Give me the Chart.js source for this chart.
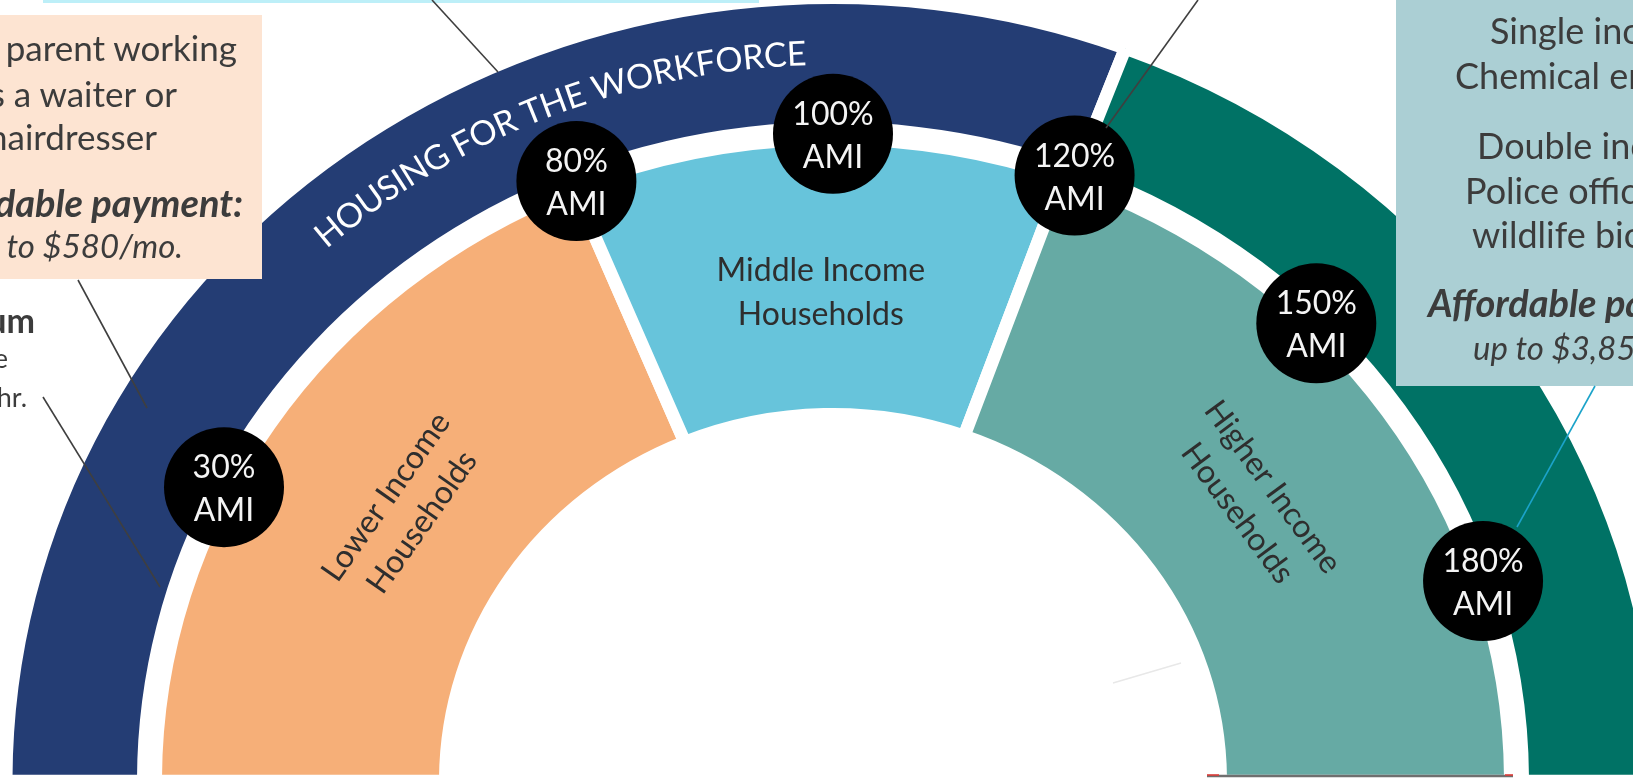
<!DOCTYPE html>
<html lang="en">
<head>
<meta charset="utf-8">
<title>Housing for the workforce – AMI bands</title>
<script src="https://cdn.jsdelivr.net/npm/chart.js@4.4.1/dist/chart.umd.min.js"></script>
<style>
  html,body{margin:0;padding:0;background:#ffffff;overflow:hidden;}
  #stage{position:relative;width:1633px;height:778px;overflow:hidden;background:#fff;}
  #chart{position:absolute;left:0;top:0;}
  #notes{position:absolute;left:0;top:0;}
</style>
</head>
<body>
<div id="stage">
  <canvas id="chart" width="1633" height="778"></canvas>
  <svg id="notes" width="1633" height="778" xmlns="http://www.w3.org/2000/svg" font-family="Lato, 'Open Sans', sans-serif">
    <rect x="-20" y="15" width="282" height="264" fill="#FDE4D2"/>
    <rect x="1396" y="-20" width="260" height="406" fill="#ABCFD4"/>
    <rect x="43" y="0" width="716" height="3" fill="#BDEFF8"/>
    <g fill="#3c3c3c" font-size="35" text-anchor="end">
      <text x="237" y="61">Single parent working</text>
      <text x="177" y="107">as a waiter or</text>
      <text x="157" y="150">hairdresser</text>
      <text x="243" y="217" font-size="38" font-weight="700" font-style="italic">Affordable payment:</text>
      <text x="183" y="258" font-size="33" font-style="italic">up to $580/mo.</text>
    </g>
    <g fill="#3c3c3c" text-anchor="end">
      <text x="35" y="333" font-size="34" font-weight="700">Minimum</text>
      <text x="8" y="368" font-size="27">wage</text>
      <text x="27" y="407" font-size="27">$11.00/hr.</text>
    </g>
    <g fill="#3c3c3c" font-size="36" text-anchor="start">
      <text x="1490" y="44">Single income:</text>
      <text x="1455" y="89">Chemical engineer</text>
      <text x="1477" y="159">Double income:</text>
      <text x="1465" y="204">Police officer and</text>
      <text x="1472" y="248">wildlife biologist</text>
      <text x="1428" y="317" font-size="38" font-weight="700" font-style="italic">Affordable payment:</text>
      <text x="1473" y="360" font-size="33" font-style="italic">up to $3,850/mo.</text>
    </g>
    <g stroke="#3f3f3f" stroke-width="1.6" fill="none">
      <line x1="78" y1="280" x2="147" y2="408"/>
      <line x1="43" y1="397" x2="160" y2="587"/>
      <line x1="432" y1="0" x2="498" y2="72"/>
      <line x1="1198" y1="0" x2="1106" y2="128"/>
    </g>
    <line x1="1595" y1="386" x2="1517" y2="527" stroke="#1BA3C9" stroke-width="1.6"/>
    <line x1="1113" y1="683" x2="1181" y2="663" stroke="#e8e8e8" stroke-width="1.5"/>
    <line x1="1207" y1="776" x2="1513" y2="776" stroke="#6f6f6f" stroke-width="2.5"/>
    <line x1="1207" y1="775" x2="1219" y2="775" stroke="#e53935" stroke-width="1.5"/>
    <line x1="1505" y1="775" x2="1513" y2="775" stroke="#e53935" stroke-width="1.5"/>
  </svg>
</div>
<script>
// ---------------- data (values on a 0–200 % AMI half-circle) ----------------
const outerCategories = ['Housing for the Workforce', 'Higher Income'];
const outerValues = [123, 77];
const innerCategories = [
  ['Lower Income', 'Households'],
  ['Middle Income', 'Households'],
  ['Higher Income', 'Households']
];
const innerValues = [75, 47, 78];
const amiLabels = ['30%', '80%', '100%', '120%', '150%', '180%'];
const amiPositions = [30, 75.5, 100, 123, 150, 180];
const workforceTitle = 'HOUSING FOR THE WORKFORCE';
const workforceTitleRange = [53.3, 97.8];

// ---------------- styling ----------------
const NAVY = '#243D74', DTEAL = '#007265', ORANGE = '#F6AF78', LBLUE = '#67C4DB', LTEAL = '#66AAA4';
const SQUASH = 0.947;      // the original graphic is slightly flattened vertically
const BORDER = 13;
const FONT = 'Lato, "Open Sans", sans-serif';

const deco = {
  id: 'deco',
  beforeDatasetsDraw(chart) {
    const el = chart.getDatasetMeta(0).data[0];
    const ctx = chart.ctx;
    ctx.save();
    ctx.translate(0, el.y);
    ctx.scale(1, SQUASH);
    ctx.translate(0, -el.y);
  },
  afterDatasetsDraw(chart) { chart.ctx.restore(); },
  afterDraw(chart) {
    const ctx = chart.ctx;
    const outerMeta = chart.getDatasetMeta(0);
    const innerMeta = chart.getDatasetMeta(2);
    const ref = innerMeta.data[0];
    const oRef = outerMeta.data[0];
    const cx = ref.x, cy = ref.y;
    const base = ref.startAngle;
    const span = innerMeta.data[innerMeta.data.length - 1].endAngle - base;
    const total = innerMeta.total;
    const angleOf = v => base + (v / total) * span;
    const P = (a, r) => [cx + r * Math.cos(a), cy + r * SQUASH * Math.sin(a)];
    const tangent = a => Math.atan2(SQUASH * Math.cos(a), -Math.sin(a));

    // segment labels of the inner ring
    const rIn = ref.innerRadius + BORDER / 2, rOut = ref.outerRadius - BORDER / 2;
    const rLab = rIn + 0.44 * (rOut - rIn);
    ctx.save();
    ctx.fillStyle = '#2e2e2e';
    ctx.font = '32px ' + FONT;
    ctx.textAlign = 'center';
    ctx.textBaseline = 'middle';
    let acc = 0;
    innerValues.forEach((v, i) => {
      const a = angleOf(acc + v / 2);
      acc += v;
      const [x, y] = P(a, rLab);
      let rot = tangent(a);
      if (Math.abs(rot) < 0.06) rot = 0;
      ctx.save();
      ctx.translate(x, y);
      ctx.rotate(rot);
      const lines = innerCategories[i];
      const lh = 44;
      lines.forEach((t, j) => ctx.fillText(t, 0, (j - (lines.length - 1) / 2) * lh));
      ctx.restore();
    });
    ctx.restore();

    // curved title in the outer ring
    ctx.save();
    ctx.font = '34px ' + FONT;
    ctx.fillStyle = '#ffffff';
    ctx.textAlign = 'center';
    ctx.textBaseline = 'alphabetic';
    const rBase = (oRef.innerRadius + oRef.outerRadius) / 2 - 2;
    const chars = [...workforceTitle];
    const widths = chars.map(c => ctx.measureText(c).width);
    const natural = widths.reduce((s, w) => s + w, 0);
    const a1 = angleOf(workforceTitleRange[0]), a2 = angleOf(workforceTitleRange[1]);
    const aC = (a1 + a2) / 2;
    const k = Math.hypot(Math.sin(aC), SQUASH * Math.cos(aC));
    const arcLen = (a2 - a1) * rBase * k;
    const gap = (arcLen - natural) / (chars.length - 1);
    let s = 0;
    chars.forEach((c, i) => {
      const mid = s + widths[i] / 2;
      const a = a1 + mid / (rBase * k);
      const [x, y] = P(a, rBase);
      ctx.save();
      ctx.translate(x, y);
      ctx.rotate(tangent(a));
      ctx.fillText(c, 0, 0);
      ctx.restore();
      s += widths[i] + gap;
    });
    ctx.restore();

    // AMI markers sitting in the gap between the two rings
    const rMark = (oRef.innerRadius + ref.outerRadius) / 2;
    ctx.save();
    amiPositions.forEach((v, i) => {
      const [x, y] = P(angleOf(v), rMark);
      ctx.beginPath();
      ctx.arc(x, y, 60, 0, Math.PI * 2);
      ctx.fillStyle = '#000000';
      ctx.fill();
      ctx.fillStyle = '#f4f4f4';
      ctx.font = '32px ' + FONT;
      ctx.textAlign = 'center';
      ctx.textBaseline = 'alphabetic';
      ctx.fillText(amiLabels[i], x, y - 9);
      ctx.fillText('AMI', x, y + 34);
    });
    ctx.restore();
  }
};

function build() {
  const spacerTotal = outerValues.reduce((a, b) => a + b, 0);
  new Chart(document.getElementById('chart'), {
    type: 'doughnut',
    data: {
      labels: innerCategories.map(l => l.join(' ')),
      datasets: [
        { label: 'Workforce band', data: outerValues, backgroundColor: [NAVY, DTEAL],
          borderColor: '#ffffff', borderWidth: BORDER, borderJoinStyle: 'miter', weight: 137.5 },
        { label: 'gap', data: [spacerTotal], backgroundColor: 'rgba(0,0,0,0)', borderWidth: 0, weight: 12 },
        { label: 'Household income', data: innerValues, backgroundColor: [ORANGE, LBLUE, LTEAL],
          borderColor: '#ffffff', borderWidth: BORDER, borderJoinStyle: 'miter', weight: 290 }
      ]
    },
    options: {
      responsive: false,
      animation: false,
      events: [],
      rotation: -90,
      circumference: 180,
      radius: 827,
      cutout: (387.5 / 827 * 100).toFixed(3) + '%',
      layout: { padding: { left: 33, right: 0, top: 0, bottom: 43 } },
      plugins: { legend: { display: false }, tooltip: { enabled: false } }
    },
    plugins: [deco]
  });
}
if (document.fonts && document.fonts.load) {
  Promise.all([document.fonts.load('31px Lato'), document.fonts.load('bold 31px Lato')]).then(build, build);
} else { build(); }
</script>
</body>
</html>
